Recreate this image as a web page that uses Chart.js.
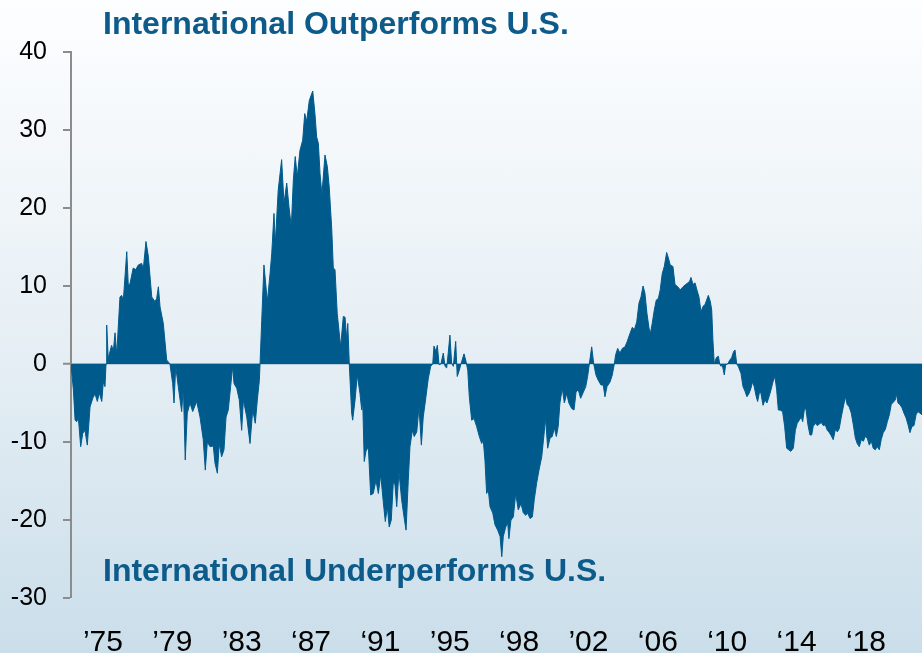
<!DOCTYPE html>
<html>
<head>
<meta charset="utf-8">
<title>International vs U.S.</title>
<script src="https://cdn.jsdelivr.net/npm/chart.js@4.4.1/dist/chart.umd.min.js"></script>
<style>
  html, body { margin: 0; padding: 0; background: #ffffff; }
  #chartBox { width: 922px; height: 653px; }
  #spreadChart {
    display: block;
    background: linear-gradient(to bottom, #fdfeff 0%, #e5eef4 55%, #cadeea 100%);
  }
</style>
</head>
<body>
<div id="chartBox"><canvas id="spreadChart" width="922" height="653"></canvas></div>
<script>
// Relative performance, international minus U.S. (percentage points)
const years = [
  1973.00, 1973.14, 1973.24, 1973.34, 1973.43, 1973.57, 1973.69, 1973.82, 1973.96, 1974.12,
  1974.28, 1974.41, 1974.55, 1974.66, 1974.81, 1974.90, 1975.00, 1975.06, 1975.10, 1975.19,
  1975.39, 1975.49, 1975.59, 1975.69, 1975.88, 1975.98, 1976.08, 1976.28, 1976.37, 1976.47,
  1976.66, 1976.81, 1976.96, 1977.16, 1977.25, 1977.41, 1977.55, 1977.75, 1977.94, 1978.04,
  1978.14, 1978.24, 1978.43, 1978.63, 1978.75, 1978.82, 1978.98, 1979.06, 1979.16, 1979.31,
  1979.51, 1979.61, 1979.72, 1979.84, 1980.00, 1980.16, 1980.39, 1980.59, 1980.78, 1980.90,
  1981.02, 1981.18, 1981.37, 1981.47, 1981.61, 1981.72, 1981.86, 1982.00, 1982.12, 1982.25,
  1982.39, 1982.51, 1982.59, 1982.75, 1982.90, 1983.04, 1983.14, 1983.34, 1983.53, 1983.69,
  1983.84, 1983.96, 1984.08, 1984.12, 1984.22, 1984.35, 1984.55, 1984.71, 1984.81, 1984.94,
  1985.02, 1985.19, 1985.39, 1985.53, 1985.69, 1985.82, 1985.96, 1986.08, 1986.19, 1986.31,
  1986.47, 1986.63, 1986.75, 1986.86, 1987.02, 1987.22, 1987.35, 1987.45, 1987.55, 1987.65,
  1987.76, 1987.94, 1988.08, 1988.19, 1988.34, 1988.43, 1988.53, 1988.66, 1988.86, 1989.02,
  1989.12, 1989.22, 1989.28, 1989.37, 1989.51, 1989.57, 1989.71, 1989.84, 1990.00, 1990.10,
  1990.16, 1990.25, 1990.35, 1990.49, 1990.63, 1990.78, 1990.94, 1991.08, 1991.22, 1991.37,
  1991.49, 1991.61, 1991.72, 1991.84, 1991.96, 1992.06, 1992.16, 1992.29, 1992.45, 1992.59,
  1992.71, 1992.84, 1992.94, 1993.08, 1993.19, 1993.34, 1993.47, 1993.61, 1993.72, 1993.88,
  1994.02, 1994.16, 1994.28, 1994.35, 1994.47, 1994.55, 1994.65, 1994.76, 1994.90, 1995.00,
  1995.10, 1995.19, 1995.29, 1995.39, 1995.49, 1995.63, 1995.72, 1995.84, 1995.94, 1996.12,
  1996.24, 1996.34, 1996.43, 1996.57, 1996.71, 1996.86, 1997.02, 1997.16, 1997.25, 1997.35,
  1997.45, 1997.55, 1997.65, 1997.81, 1997.94, 1998.10, 1998.24, 1998.34, 1998.43, 1998.57,
  1998.69, 1998.76, 1998.88, 1999.02, 1999.16, 1999.31, 1999.47, 1999.61, 1999.75, 1999.86,
  2000.00, 2000.14, 2000.25, 2000.39, 2000.53, 2000.69, 2000.84, 2000.92, 2001.04, 2001.18,
  2001.31, 2001.43, 2001.55, 2001.66, 2001.76, 2001.90, 2002.02, 2002.16, 2002.29, 2002.45,
  2002.59, 2002.71, 2002.84, 2002.98, 2003.14, 2003.28, 2003.39, 2003.49, 2003.63, 2003.75,
  2003.88, 2004.02, 2004.18, 2004.31, 2004.41, 2004.53, 2004.71, 2004.84, 2004.96, 2005.04,
  2005.16, 2005.29, 2005.43, 2005.59, 2005.72, 2005.88, 2006.02, 2006.14, 2006.28, 2006.41,
  2006.53, 2006.65, 2006.76, 2006.88, 2007.00, 2007.08, 2007.19, 2007.31, 2007.43, 2007.55,
  2007.66, 2007.78, 2007.90, 2008.04, 2008.14, 2008.25, 2008.41, 2008.53, 2008.69, 2008.84,
  2009.00, 2009.16, 2009.28, 2009.39, 2009.47, 2009.59, 2009.71, 2009.82, 2009.94, 2010.06,
  2010.18, 2010.29, 2010.39, 2010.49, 2010.61, 2010.69, 2010.76, 2010.84, 2010.96, 2011.08,
  2011.16, 2011.24, 2011.31, 2011.43, 2011.51, 2011.63, 2011.75, 2011.86, 2011.98, 2012.06,
  2012.16, 2012.25, 2012.41, 2012.53, 2012.65, 2012.76, 2012.88, 2013.00, 2013.08, 2013.19,
  2013.31, 2013.39, 2013.51, 2013.59, 2013.71, 2013.82, 2013.94, 2014.06, 2014.18, 2014.29,
  2014.41, 2014.51, 2014.61, 2014.71, 2014.86, 2014.98, 2015.10, 2015.22, 2015.34, 2015.49,
  2015.61, 2015.72, 2015.84, 2015.96, 2016.04, 2016.16, 2016.24, 2016.35, 2016.47, 2016.57,
  2016.66, 2016.78, 2016.90, 2017.02, 2017.14, 2017.25, 2017.37, 2017.49, 2017.61, 2017.72,
  2017.84, 2017.96, 2018.08, 2018.19, 2018.31, 2018.43, 2018.55, 2018.66, 2018.78, 2018.90,
  2019.02, 2019.14, 2019.25, 2019.37, 2019.49, 2019.61, 2019.72, 2019.84, 2019.96, 2020.08,
  2020.19, 2020.31, 2020.43, 2020.55, 2020.66, 2020.78, 2020.90, 2021.02, 2021.14, 2021.25,
  2021.37, 2021.49, 2021.55, 2021.65, 2021.76, 2021.88, 2022.00, 2022.12, 2022.24, 2022.35,
  2022.47, 2022.59, 2022.71, 2022.82, 2022.94, 2023.06
];

const spread = [
  0, -3.3, -7.2, -7.4, -6.8, -10.6, -8.9, -8.5, -10.4, -5.5,
  -4.4, -3.8, -4.8, -3.7, -4.8, -2.3, -2.9, 0, 5.0, 0.7,
  2.4, 1.6, 4.0, 1.2, 8.6, 8.8, 8.2, 14.4, 10.1, 10.3,
  12.3, 12.1, 12.7, 12.9, 12.1, 15.7, 13.8, 8.6, 8.0, 8.4,
  9.9, 7.3, 5.2, 0.5, 0.2, 0, -2.5, -5.0, -0.3, -2.9,
  -6.1, -2.9, -12.3, -6.3, -5.0, -6.1, -4.8, -6.8, -9.7, -13.6,
  -10.0, -10.6, -10.5, -12.7, -14.0, -10.2, -11.9, -11.0, -6.8, -5.9,
  -2.9, -0.3, -2.5, -3.1, -4.6, -8.5, -4.6, -6.8, -10.2, -5.9,
  -7.6, -4.6, -2.1, 0, 5.6, 12.7, 8.0, 11.6, 14.2, 19.3,
  15.5, 22.3, 26.2, 20.6, 23.2, 20.2, 17.6, 23.6, 26.6, 24.0,
  27.4, 28.7, 32.1, 31.1, 33.8, 35.0, 32.1, 29.1, 28.3, 24.4,
  21.7, 26.8, 25.3, 22.7, 17.2, 12.3, 12.1, 6.5, 2.2, 6.1,
  6.0, 3.1, 5.2, 0, -6.3, -7.2, -4.6, -1.4, -3.8, -5.9,
  -4.8, -12.5, -11.2, -10.6, -16.8, -16.6, -14.9, -16.6, -14.2, -17.7,
  -20.2, -18.3, -20.9, -20.0, -15.1, -15.5, -18.3, -13.8, -17.4, -19.6,
  -21.3, -14.9, -10.6, -8.5, -9.3, -8.7, -5.5, -10.4, -6.8, -4.2,
  -1.8, -0.3, 0, 2.3, 1.6, 2.4, -0.1, 0, 1.4, -0.3,
  -0.5, 1.4, 3.7, 0.1, -0.3, 2.9, -1.6, -0.8, 0, 1.3,
  0.3, -0.8, -4.2, -7.2, -7.0, -8.0, -9.3, -10.2, -9.7, -12.3,
  -16.6, -16.2, -18.3, -19.1, -20.6, -21.3, -22.1, -24.7, -22.1, -20.9,
  -20.4, -22.4, -20.0, -19.6, -16.6, -18.7, -17.9, -19.1, -19.4, -19.1,
  -19.8, -19.6, -17.4, -15.3, -13.6, -11.9, -8.7, -7.0, -10.8, -9.5,
  -9.3, -8.2, -9.3, -8.0, -5.0, -3.1, -5.0, -3.8, -5.0, -5.7,
  -5.9, -3.6, -3.3, -4.4, -3.6, -2.9, -1.6, 0, 2.2, 0,
  -1.4, -2.1, -2.7, -2.7, -4.2, -2.9, -2.3, -1.4, 0, 1.2,
  2.0, 1.4, 2.0, 2.2, 2.9, 3.9, 4.7, 4.4, 5.4, 7.8,
  8.6, 10.0, 9.1, 6.5, 4.6, 3.9, 5.2, 6.9, 8.2, 8.4,
  9.5, 11.6, 12.5, 14.3, 13.6, 12.7, 12.5, 10.2, 9.9, 9.5,
  9.9, 10.2, 10.4, 10.6, 11.1, 10.2, 10.4, 9.5, 8.6, 6.7,
  7.4, 7.6, 8.2, 8.8, 8.0, 6.9, 3.1, 0, 0.8, 1.0,
  0, -0.3, -0.1, -1.4, -0.1, 0, 0.5, 0.8, 1.6, 1.8,
  0, -0.3, -1.2, -2.9, -3.5, -4.2, -3.8, -3.1, -2.3, -2.9,
  -4.2, -4.8, -3.5, -3.8, -5.3, -4.6, -5.0, -4.2, -3.3, -2.3,
  -1.6, -3.3, -5.9, -5.9, -6.1, -8.0, -10.8, -11.0, -11.2, -10.8,
  -8.5, -7.6, -7.2, -6.8, -7.4, -5.5, -5.9, -7.8, -9.1, -9.1,
  -8.0, -7.6, -7.9, -7.7, -7.5, -7.9, -7.8, -8.5, -8.8, -9.2,
  -9.7, -8.4, -8.7, -8.3, -6.8, -5.5, -4.2, -5.2, -5.5, -6.3,
  -7.8, -9.5, -10.2, -10.6, -9.7, -9.9, -9.3, -9.5, -10.4, -9.9,
  -10.8, -11.0, -10.6, -11.0, -9.7, -8.8, -8.4, -7.4, -6.5, -5.2,
  -4.9, -4.6, -3.8, -5.0, -5.2, -5.6, -6.3, -6.9, -7.8, -8.8,
  -8.0, -7.9, -6.5, -6.1, -6.3, -6.5
];

// Where the year labels sit on the time axis, and what they say
const tickYears = [1974.88, 1978.96, 1983.04, 1987.12, 1991.20, 1995.28, 1999.36, 2003.44, 2007.52, 2011.60, 2015.68, 2019.76];
const tickLabels = ['\u201975', '\u201979', '\u201983', '\u201887', '\u201891', '\u201995', '\u201898', '\u201902', '\u201806', '\u201810', '\u201814', '\u201818'];

const topTitle = 'International Outperforms U.S.';
const bottomTitle = 'International Underperforms U.S.';

const fillColor = '#005a8c';
const titleColor = '#0d5b8b';
const fontFamily = '"Liberation Sans", Arial, Helvetica, sans-serif';

document.addEventListener("DOMContentLoaded", function() {
    // Pair the years with the spread values
    const points = years.map((yr, i) => ({ x: yr, y: spread[i] }));

    // Draws the two region captions inside the plot
    const regionLabels = {
        id: 'regionLabels',
        afterDraw(chart) {
            const { ctx, chartArea } = chart;
            ctx.save();
            ctx.fillStyle = titleColor;
            ctx.font = 'bold 32px ' + fontFamily;
            ctx.textAlign = 'left';
            ctx.textBaseline = 'alphabetic';
            ctx.fillText(topTitle, chartArea.left + 32, chartArea.top - 18);
            ctx.fillText(bottomTitle, chartArea.left + 32, chartArea.bottom - 17);
            ctx.restore();
        }
    };

    const ctx = document.getElementById('spreadChart').getContext('2d');

    new Chart(ctx, {
        type: 'line',
        data: {
            datasets: [{
                label: 'International minus U.S.',
                data: points,
                fill: 'origin',
                backgroundColor: fillColor,
                borderColor: fillColor,
                borderWidth: 1,
                pointRadius: 0,
                tension: 0
            }]
        },
        options: {
            responsive: false,
            animation: false,
            devicePixelRatio: 1,
            layout: { padding: { top: 52, left: 0, right: 0, bottom: 0 } },
            plugins: {
                legend: { display: false },
                tooltip: { enabled: false }
            },
            scales: {
                x: {
                    type: 'linear',
                    min: 1973,
                    max: 2023.06,
                    afterBuildTicks(scale) {
                        scale.ticks = tickYears.map(v => ({ value: v }));
                    },
                    afterFit(scale) { scale.height = 55; },
                    ticks: {
                        autoSkip: false,
                        maxRotation: 0,
                        color: '#000',
                        padding: 27,
                        font: { family: fontFamily, size: 30 },
                        callback: (value, index) => tickLabels[index]
                    },
                    grid: { display: false, drawTicks: false },
                    border: { display: false }
                },
                y: {
                    min: -30,
                    max: 40,
                    z: 1, // keep the zero line on top of the fill
                    afterFit(scale) { scale.width = 71; },
                    ticks: {
                        stepSize: 10,
                        color: '#000',
                        padding: 16,
                        font: { family: fontFamily, size: 25 }
                    },
                    grid: {
                        color: c => (c.tick && c.tick.value === 0) ? '#8fb0c6' : 'rgba(0,0,0,0)',
                        lineWidth: c => (c.tick && c.tick.value === 0) ? 1.5 : 0,
                        tickColor: '#8c8c8c',
                        tickWidth: 2,
                        tickLength: 8
                    },
                    border: { color: '#8c8c8c', width: 2 }
                }
            }
        },
        plugins: [regionLabels]
    });
});
</script>
</body>
</html>
